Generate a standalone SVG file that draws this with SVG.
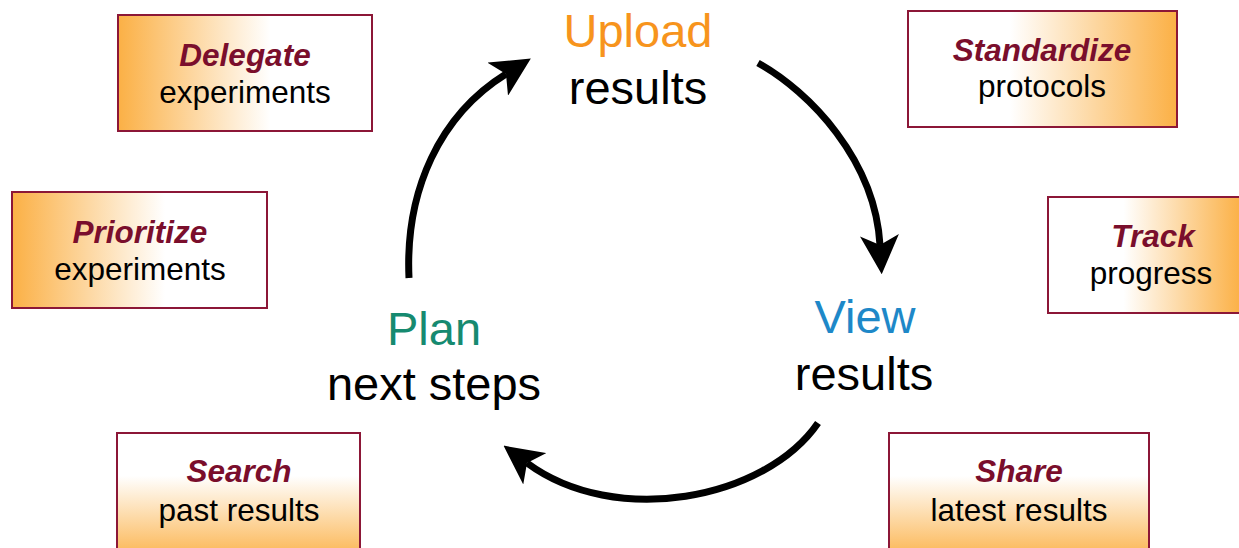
<svg xmlns="http://www.w3.org/2000/svg" width="1239" height="548" viewBox="0 0 1239 548">
<style>
.box{stroke:#8C1737;stroke-width:2}
.t{font-family:"Liberation Sans",Arial,sans-serif;font-size:31.5px;text-anchor:middle}
.k{font-weight:bold;font-style:italic;fill:#7A0E2C}
.n{fill:#000}
.big{font-family:"Liberation Sans",Arial,sans-serif;font-size:47px;text-anchor:middle}
.arc{fill:none;stroke:#000;stroke-width:7;marker-end:url(#ah)}
</style>
<defs>
<linearGradient id="gL" x1="0" y1="0" x2="1" y2="0">
<stop offset="0" stop-color="#FBB045"/><stop offset="0.6" stop-color="#FFFFFF"/><stop offset="1" stop-color="#FFFFFF"/>
</linearGradient>
<linearGradient id="gR" x1="0" y1="0" x2="1" y2="0">
<stop offset="0" stop-color="#FFFFFF"/><stop offset="0.38" stop-color="#FFFFFF"/><stop offset="1" stop-color="#FBB045"/>
</linearGradient>
<linearGradient id="gR2" x1="0" y1="0" x2="1" y2="0">
<stop offset="0" stop-color="#FFFFFF"/><stop offset="0.36" stop-color="#FFFFFF"/><stop offset="0.92" stop-color="#FBB045"/>
</linearGradient>
<linearGradient id="gB" x1="0" y1="0" x2="0" y2="1">
<stop offset="0" stop-color="#FFFFFF"/><stop offset="0.33" stop-color="#FFFFFF"/><stop offset="1" stop-color="#FBB045"/>
</linearGradient>
<marker id="ah" viewBox="0 0 10 10" refX="2.5" refY="5" markerWidth="39" markerHeight="39" markerUnits="userSpaceOnUse" orient="auto">
<path d="M0,0 L10,5 L0,10 L2.5,5 Z" fill="#000"/>
</marker>
</defs>

<g id="connectors">
<path class="arc" d="M409,278 C405,190 440,115 506,74"/>
<path class="arc" d="M758,63 C810,92 875,160 880,245"/>
<path class="arc" d="M818,423 C765,500 615,528 527,463"/>
</g>

<g id="upload">
<text class="big" x="638" y="47" fill="#F7941D">Upload</text>
<text class="big n" x="638" y="104">results</text>
</g>
<g id="view">
<text class="big" x="865" y="333" fill="#1E88C8">View</text>
<text class="big n" x="864" y="390">results</text>
</g>
<g id="plan">
<text class="big" x="434" y="345" fill="#168A70">Plan</text>
<text class="big n" x="434" y="400">next steps</text>
</g>

<g id="delegate">
<rect class="box" x="118" y="15" width="254" height="116" fill="url(#gL)"/>
<text class="t k" x="245" y="66">Delegate</text>
<text class="t n" x="245" y="103">experiments</text>
</g>
<g id="standardize">
<rect class="box" x="908" y="11" width="269" height="116" fill="url(#gR)"/>
<text class="t k" x="1042" y="61">Standardize</text>
<text class="t n" x="1042" y="97">protocols</text>
</g>
<g id="prioritize">
<rect class="box" x="12" y="192" width="255" height="116" fill="url(#gL)"/>
<text class="t k" x="140" y="243">Prioritize</text>
<text class="t n" x="140" y="280">experiments</text>
</g>
<g id="track">
<rect class="box" x="1048" y="197" width="210" height="116" fill="url(#gR2)"/>
<text class="t k" x="1153" y="247">Track</text>
<text class="t n" x="1151" y="284">progress</text>
</g>
<g id="search">
<rect class="box" x="117" y="433" width="243" height="130" fill="url(#gB)"/>
<text class="t k" x="239" y="482">Search</text>
<text class="t n" x="239" y="521">past results</text>
</g>
<g id="share">
<rect class="box" x="889" y="433" width="260" height="130" fill="url(#gB)"/>
<text class="t k" x="1019" y="482">Share</text>
<text class="t n" x="1019" y="521">latest results</text>
</g>
</svg>
